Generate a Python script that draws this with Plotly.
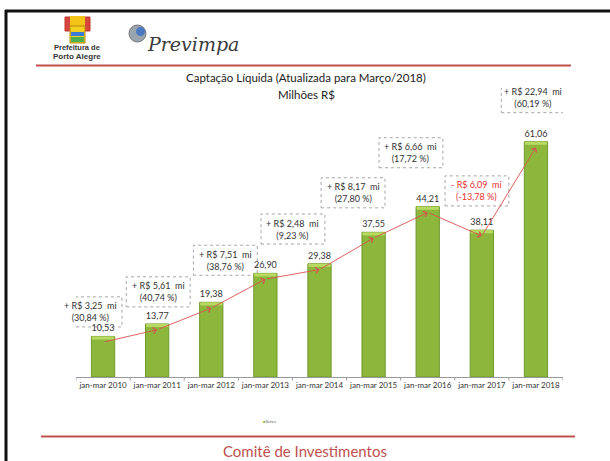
import plotly.graph_objects as go

categories = ["jan-mar 2010", "jan-mar 2011", "jan-mar 2012", "jan-mar 2013", "jan-mar 2014",
              "jan-mar 2015", "jan-mar 2016", "jan-mar 2017", "jan-mar 2018"]
values = [10.53, 13.77, 19.38, 26.90, 29.38, 37.55, 44.21, 38.11, 61.06]
delta_mi = [3.25, 5.61, 7.51, 2.48, 8.17, 6.66, -6.09, 22.94]
delta_pct = [30.84, 40.74, 38.76, 9.23, 27.80, 17.72, -13.78, 60.19]

# layout helpers (pixel -> paper)
L, R, B, T = 76, 563, 377, 88
W, H = 610, 461
def px(x):
    return (x - L) / (R - L)
def py(y):
    return (B - y) / (B - T)

# box centres (x in category index, y in data units) — layout only
box_pos = [(-0.24, 16.9), (1.02, 22.1), (2.26, 30.3), (3.51, 38.4),
           (4.62, 47.8), (5.69, 58.2), (6.91, 48.3), (7.95, 72.5)]

fig = go.Figure()
fig.add_trace(go.Bar(
    x=list(range(len(categories))), y=values,
    marker=dict(color="#8cb63c", line=dict(color="#6f9a2c", width=1)),
    width=0.43,
    text=values, texttemplate="%{y:.2f}", textposition="outside",
    textfont=dict(size=9, color="#333333"), cliponaxis=False,
    showlegend=False, hoverinfo="skip",
))
# lighter cap on bar tops
fig.add_trace(go.Bar(
    x=list(range(len(categories))), y=[0.8] * len(values), base=[v - 0.8 for v in values],
    marker=dict(color="#b9da62", line=dict(width=0)), width=0.41,
    showlegend=False, hoverinfo="skip", textposition="none",
))

shapes = []
annotations = []

# trend arrows
off = 1.5
for i in range(len(values) - 1):
    annotations.append(dict(
        x=i + 1, y=values[i + 1] - off, ax=i, ay=values[i] - off,
        xref="x", yref="y", axref="x", ayref="y",
        showarrow=True, arrowhead=4, arrowsize=1.3, arrowwidth=0.9,
        arrowcolor="#d9534f", standoff=0, text=""))

# change boxes
for i, (bx, by) in enumerate(box_pos):
    d = delta_mi[i]
    p = delta_pct[i]
    sign = "+" if d >= 0 else "-"
    ds = f"{abs(d):.2f}".replace(".", ",")
    ps = f"{p:.2f}".replace(".", ",")
    color = "#333333" if d >= 0 else "#e8312f"
    annotations.append(dict(
        x=bx, y=by, xref="x", yref="y", showarrow=False, yanchor="middle",
        text=f"{sign} R$ {ds}  mi<br>({ps} %)",
        font=dict(size=9, color=color), align="center"))
    shapes.append(dict(type="rect", xref="x", yref="y",
                       x0=bx - 0.59, x1=bx + 0.59, y0=by - 3.9, y1=by + 3.9,
                       line=dict(color="#a6a6a6", width=1, dash="dot"),
                       fillcolor="rgba(0,0,0,0)", layer="below"))

# frame and rules
shapes.append(dict(type="line", xref="paper", yref="paper",
                   x0=px(5), x1=px(612), y0=py(11), y1=py(11),
                   line=dict(color="#111111", width=3)))
shapes.append(dict(type="line", xref="paper", yref="paper",
                   x0=px(6), x1=px(6), y0=py(10), y1=py(463),
                   line=dict(color="#111111", width=3)))
shapes.append(dict(type="line", xref="paper", yref="paper",
                   x0=px(36), x1=px(571), y0=py(65.5), y1=py(65.5),
                   line=dict(color="#c0504d", width=2)))
shapes.append(dict(type="line", xref="paper", yref="paper",
                   x0=px(41), x1=px(575), y0=py(436.5), y1=py(436.5),
                   line=dict(color="#c0504d", width=2)))

# crest (rough drawing)
shapes.append(dict(type="rect", xref="paper", yref="paper",
                   x0=px(65), x1=px(90), y0=py(31), y1=py(17),
                   line=dict(color="#c0392b", width=1), fillcolor="#d64541"))
shapes.append(dict(type="rect", xref="paper", yref="paper",
                   x0=px(70), x1=px(85), y0=py(26), y1=py(16),
                   line=dict(width=0), fillcolor="#f2c418"))
shapes.append(dict(type="rect", xref="paper", yref="paper",
                   x0=px(70), x1=px(85), y0=py(43), y1=py(26),
                   line=dict(color="#b8860b", width=1), fillcolor="#f5d020"))
shapes.append(dict(type="rect", xref="paper", yref="paper",
                   x0=px(71), x1=px(84), y0=py(36), y1=py(32),
                   line=dict(width=0), fillcolor="#3a7bd5"))
shapes.append(dict(type="rect", xref="paper", yref="paper",
                   x0=px(71), x1=px(84), y0=py(42), y1=py(37),
                   line=dict(width=0), fillcolor="#4caf50"))
# previmpa icon
shapes.append(dict(type="circle", xref="paper", yref="paper",
                   x0=px(129), x1=px(146), y0=py(42), y1=py(25),
                   line=dict(color="#777777", width=1), fillcolor="#9aa4ad"))
shapes.append(dict(type="circle", xref="paper", yref="paper",
                   x0=px(136), x1=px(145), y0=py(36), y1=py(27),
                   line=dict(width=0), fillcolor="#4a78c2"))

def note(x, y, text, size, color="#333333", family=None, xanchor="center"):
    f = dict(size=size, color=color)
    if family:
        f["family"] = family
    return dict(x=px(x), y=py(y), xref="paper", yref="paper", showarrow=False,
                xanchor=xanchor, yanchor="middle", text=text, font=f)

annotations += [
    note(77, 47, "<b>Prefeitura de</b>", 7.5, family="Liberation Sans"),
    note(77, 56, "<b>Porto Alegre</b>", 8, family="Liberation Sans"),
    note(145, 44, "<i>Previmpa</i>", 19, color="#3a3a3a", family="DejaVu Serif", xanchor="left"),
    note(306, 78, "Captação Líquida (Atualizada para Março/2018)", 11.5, color="#222222"),
    note(306, 94, "Milhões R$", 11.5, color="#222222"),
    note(269, 421, "<span style='color:#8cb63c'>■</span>Séries", 4, color="#555555"),
    note(305, 451, "Comitê de Investimentos", 15, color="#c0504d"),
]

fig.update_layout(
    width=W, height=H,
    margin=dict(l=L, r=W - R, t=T, b=H - B, pad=0, autoexpand=False),
    paper_bgcolor="white", plot_bgcolor="white",
    separators=",.",
    font=dict(family="Lato", color="#333333"),
    barmode="overlay",
    shapes=shapes, annotations=annotations,
    showlegend=False,
    xaxis=dict(tickmode="array", tickvals=list(range(len(categories))), ticktext=categories,
               range=[-0.5, len(categories) - 0.5], automargin=False,
               showline=True, linecolor="#9a9a9a", linewidth=1,
               ticks="", tickfont=dict(size=8, color="#333333"),
               showgrid=False, zeroline=False, fixedrange=True),
    yaxis=dict(range=[0, 75], visible=False, showgrid=False, zeroline=False,
               fixedrange=True, automargin=False),
)
# boundary tick marks
for k in range(len(categories) + 1):
    fig.add_shape(type="line", xref="x", yref="paper", x0=k - 0.5, x1=k - 0.5,
                  y0=0, y1=-0.012, line=dict(color="#9a9a9a", width=1))

fig.write_html("out.html", config={"displayModeBar": False},
               post_script="document.body.style.margin='0';document.body.style.padding='0';")
